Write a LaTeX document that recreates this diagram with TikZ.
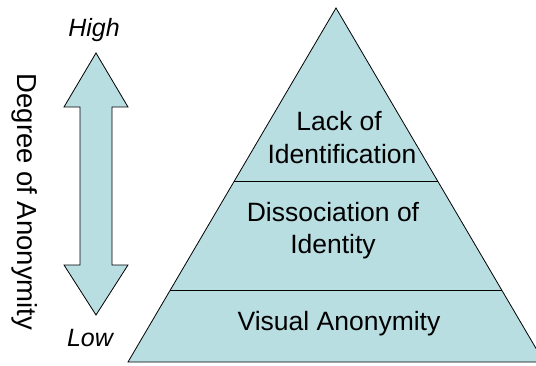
\documentclass[tikz,border=0pt]{standalone}
\usepackage{fontspec}
\setmainfont{Liberation Sans}
\usetikzlibrary{calc}
\definecolor{pyrfill}{RGB}{185,222,226}
\begin{document}
\begin{tikzpicture}[x=1pt,y=1pt,
  shapeline/.style={draw=black,line width=0.8pt,fill=pyrfill,line join=miter},
  divline/.style={draw=black,line width=0.8pt},
  pyrtext/.style={font=\fontsize{26.5}{32}\selectfont,anchor=base,inner sep=0pt},
  endtext/.style={font=\fontsize{25}{30}\selectfont\itshape,anchor=base,inner sep=0pt},
  axistext/.style={font=\fontsize{27.5}{33}\selectfont,anchor=base,inner sep=0pt,rotate=-90}]
\useasboundingbox (0,0) rectangle (536,365);
\clip (0,0) rectangle (536,365);
% pyramid
\coordinate (apex) at (336,357);
\coordinate (bl) at (128,3);
\coordinate (br) at (544,3);
\path[shapeline] (apex) -- (bl) -- (br) -- cycle;
\coordinate (l1a) at ($(apex)!0.4907!(bl)$);
\coordinate (l1b) at ($(apex)!0.4907!(br)$);
\coordinate (l2a) at ($(apex)!0.7966!(bl)$);
\coordinate (l2b) at ($(apex)!0.7966!(br)$);
\draw[divline] (l1a) -- (l1b);
\draw[divline] (l2a) -- (l2b);
\node[pyrtext] (lack) at (339,235) {Lack of};
\node[pyrtext] (ident) at (342,202) {Identification};
\node[pyrtext] (diss) at (333,143.3) {Dissociation of};
\node[pyrtext] (identity) at (333,112) {Identity};
\node[pyrtext] (visual) at (339,35) {Visual Anonymity};
% double arrow
\path[shapeline] (96,312) -- (128,258) -- (112,258) -- (112,100) -- (128,100)
  -- (96,50) -- (64,100) -- (80,100) -- (80,258) -- (64,258) -- cycle;
\node[endtext] (high) at (94,328) {High};
\node[endtext] (low) at (90,19) {Low};
\node[axistext] (degree) at (17,163) {Degree of Anonymity};
\end{tikzpicture}
\end{document}
